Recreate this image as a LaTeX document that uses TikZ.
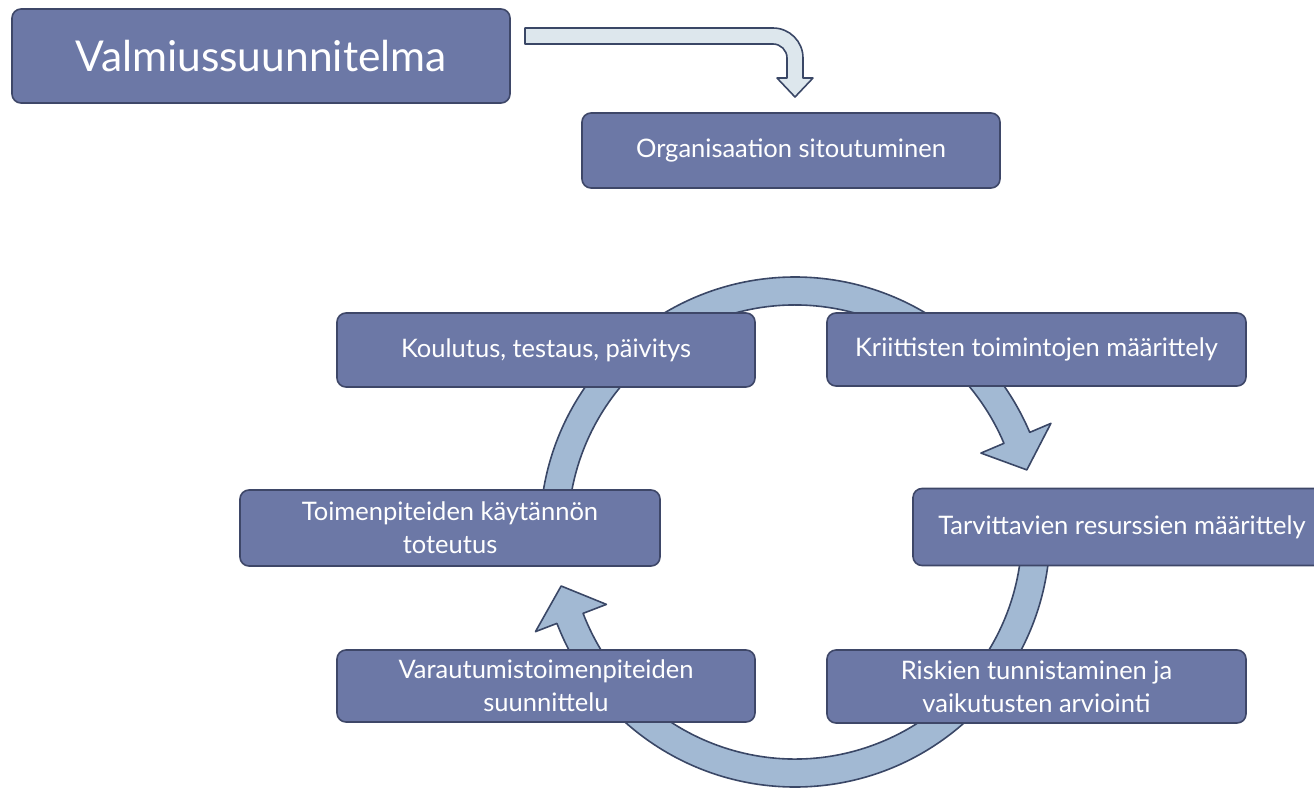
\documentclass[tikz,border=0pt]{standalone}
\usepackage{fontspec}
\setmainfont{Lato}
\usetikzlibrary{calc}
\definecolor{boxfill}{HTML}{6C78A6}
\definecolor{boxline}{HTML}{3E4768}
\definecolor{ringfill}{HTML}{A2B9D3}
\definecolor{ringline}{HTML}{3A4766}
\definecolor{elbowfill}{HTML}{DDE7ED}
\tikzset{
  stepbox/.style={draw=boxline, line width=1.6pt, fill=boxfill, rounded corners=9pt,
    text=white, font=\fontsize{25.5}{33}\selectfont, align=center, inner sep=0pt},
  ringarrow/.style={draw=ringline, line width=1.6pt, fill=ringfill, line join=round},
  elbow/.style={draw=ringline, line width=1.6pt, fill=elbowfill, line join=round}
}
\begin{document}
\begin{tikzpicture}[x=1pt,y=-1pt]
\useasboundingbox (0,0) rectangle (1314,790);
% cycle arrows
\coordinate (ringc) at (795,532);
\begin{scope}[shift={(ringc)}]
\draw[ringarrow] (180:255) arc[start angle=180,end angle=337,radius=255]
  -- (337:278) -- (345:240) -- (337:202) -- (337:227)
  arc[start angle=337,end angle=180,radius=227] -- cycle;
\draw[ringarrow] (0:255) arc[start angle=0,end angle=159,radius=255]
  -- (159:278) -- (167:240) -- (159:202) -- (159:227)
  arc[start angle=159,end angle=0,radius=227] -- cycle;
\end{scope}
% boxes
\node[stepbox, minimum width=498pt, minimum height=94pt, font=\fontsize{42.5}{50}\selectfont] (valm) at (261,56) {Valmiussuunnitelma};
\node[stepbox, minimum width=418pt, minimum height=75pt] (org) at (791,150.5) {Organisaation sitoutuminen};
\node[stepbox, minimum width=418pt, minimum height=74pt] (kou) at (546,350) {Koulutus, testaus, päivitys};
\node[stepbox, minimum width=419pt, minimum height=73pt] (kri) at (1036.5,349.5) {Kriittisten toimintojen määrittely};
\node[stepbox, minimum width=420pt, minimum height=76pt] (toi) at (450,528) {Toimenpiteiden käytännön\\toteutus};
\node[stepbox, minimum width=418pt, minimum height=77pt] (tar) at (1122,527) {Tarvittavien resurssien määrittely};
\node[stepbox, minimum width=418pt, minimum height=72pt] (var) at (546,686) {Varautumistoimenpiteiden\\suunnittelu};
\node[stepbox, minimum width=419pt, minimum height=73pt] (ris) at (1036.5,686.5) {Riskien tunnistaminen ja\\vaikutusten arviointi};
% elbow arrow from title towards org
\coordinate (e0) at (525,28);
\draw[elbow] (e0) -- (773,28) arc[start angle=270,end angle=360,radius=30]
  -- (803,78) -- (813,78) -- (795,97) -- (777,78) -- (787,78) -- (787,58)
  arc[start angle=0,end angle=-90,radius=14] -- (525,44) -- cycle;
\end{tikzpicture}
\end{document}
